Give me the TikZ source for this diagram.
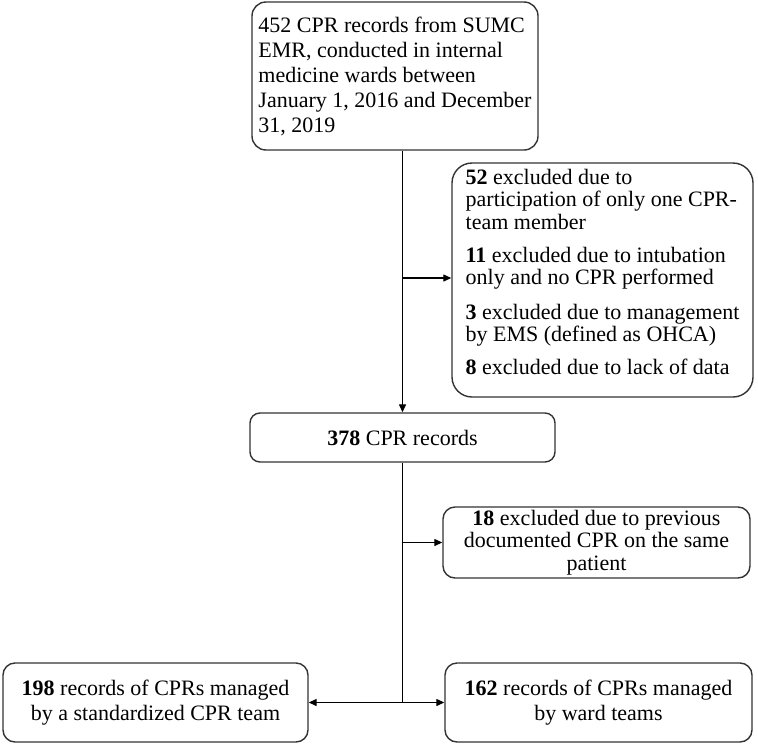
\documentclass[tikz,border=0pt]{standalone}
\usepackage{fontspec}
\setmainfont{Liberation Serif}
\usetikzlibrary{arrows.meta}
\begin{document}
\begin{tikzpicture}[x=1pt,y=1pt,
  box/.style={draw=black!80, line width=1.4pt, rounded corners=14pt, inner sep=0pt,
    font=\fontsize{22}{25}\selectfont},
  arr/.style={line width=1.3pt, -{Triangle[length=8pt,width=7pt]}},
  ln/.style={line width=1.3pt}]
\useasboundingbox (0,0) rectangle (758,-750);
\node[box, align=left, minimum width=286, minimum height=148] (top) at (395,-76)
  {452 CPR records from SUMC\\EMR, conducted in internal\\medicine wards between\\January 1, 2016 and December\\31, 2019};
\node[box, align=left, minimum width=301, minimum height=234, rounded corners=20pt,
  font=\fontsize{22}{22.5}\selectfont] (ex1) at (602.5,-280)
  {\textbf{52} excluded due to\\participation of only one CPR-\\team member\\[10.5pt]
   \textbf{11} excluded due to intubation\\only and no CPR performed\\[12pt]
   \textbf{3} excluded due to management\\by EMS (defined as OHCA)\\[10.5pt]
   \textbf{8} excluded due to lack of data\\[-6pt]\mbox{}};
\node[box, minimum width=305, minimum height=49, rounded corners=10pt] (rec) at (402.5,-437.5)
  {\textbf{378} CPR records};
\node[box, align=center, minimum width=307, minimum height=71, rounded corners=12pt,
  font=\fontsize{22}{22.5}\selectfont] (ex2) at (596.5,-542.5)
  {\textbf{18} excluded due to previous\\documented CPR on the same\\patient};
\node[box, align=center, minimum width=305, minimum height=79, rounded corners=12pt] (left) at (155.5,-702.5)
  {\textbf{198} records of CPRs managed\\by a standardized CPR team};
\node[box, align=center, minimum width=307, minimum height=79, rounded corners=12pt] (right) at (598.5,-702.5)
  {\textbf{162} records of CPRs managed\\by ward teams};
\coordinate (split) at (rec.south |- left.east);
\draw[arr] (top.south -| rec.north) -- (rec.north);
\draw[arr] (rec.north |- 0,-278) -- (ex1.west |- 0,-278);
\draw[ln] (rec.south) -- (split);
\draw[arr] (rec.south |- ex2.west) -- (ex2.west);
\draw[arr] (split) -- (left.east);
\draw[arr] (split) -- (right.west);
\end{tikzpicture}
\end{document}
